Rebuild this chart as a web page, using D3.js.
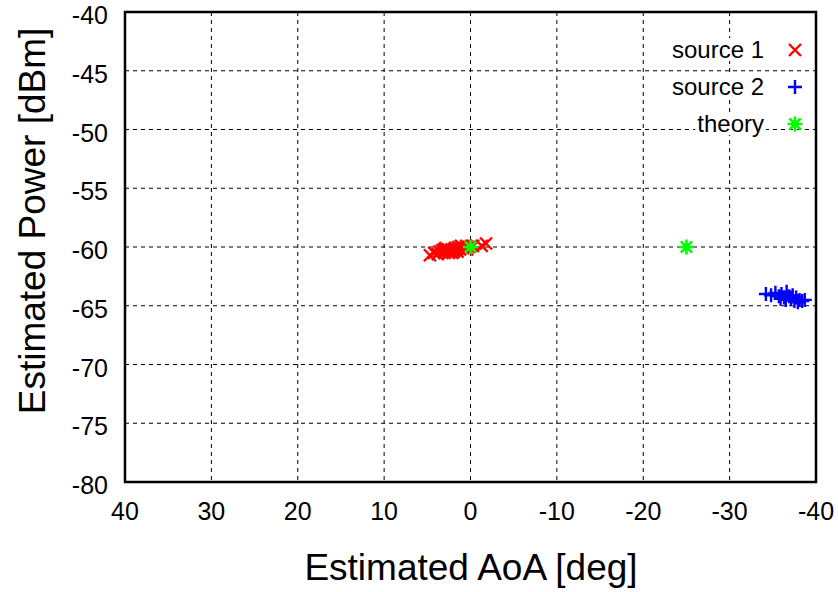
<!DOCTYPE html>
<html><head><meta charset="utf-8">
<script src="https://cdn.jsdelivr.net/npm/d3@7"></script>
<style>body{margin:0;background:#fff}svg{display:block;font-family:"Liberation Sans",Arial,sans-serif}</style>
</head><body><svg id="c" width="838" height="592"></svg>
<script>
const xTicks = [40,30,20,10,0,-10,-20,-30,-40];
const yTicks = [-80,-75,-70,-65,-60,-55,-50,-45,-40];
const source1AoA = [4.7,4.2,3.6,3.3,3.0,2.8,2.6,2.4,2.2,2.0,1.8,1.6,1.4,1.2,1.0,0.8,0.5,0.2,-0.3,-1.3,-1.8,2.9,3.8,2.5,1.9,1.1,0.4,3.1,2.1,1.5];
const source1Pow = [-60.7,-60.5,-60.4,-60.3,-60.5,-60.3,-60.2,-60.4,-60.2,-60.3,-60.1,-60.2,-60.0,-60.2,-60.0,-60.1,-59.9,-60.0,-59.9,-59.9,-59.7,-60.1,-60.6,-60.5,-60.4,-59.9,-60.2,-60.2,-60.5,-60.4];
const source2AoA = [-34.2,-34.8,-35.3,-35.7,-36.0,-36.3,-36.6,-36.9,-37.1,-37.3,-37.5,-37.7,-37.9,-38.1,-38.4,-38.7,-36.5,-35.9];
const source2Pow = [-64.0,-64.1,-63.9,-64.2,-64.0,-64.3,-63.8,-64.2,-64.4,-64.1,-64.6,-64.3,-64.7,-64.5,-64.6,-64.5,-64.5,-64.4];
const theoryAoA = [0,-25];
const theoryPow = [-60,-60];
const legendLabels = ["source 1","source 2","theory"];

const svg = d3.select("#c");
const L=125,R=816,T=12,B=482;
const x = d3.scaleLinear().domain([40,-40]).range([L,R]);
const y = d3.scaleLinear().domain([-80,-40]).range([B,T]);

// grid
svg.append("g").selectAll("line").data(xTicks.slice(1,-1)).join("line")
  .attr("x1",d=>x(d)).attr("x2",d=>x(d)).attr("y1",T).attr("y2",B)
  .attr("stroke","#000").attr("stroke-width",1).attr("stroke-dasharray","4,4");
svg.append("g").selectAll("line").data(yTicks.slice(1,-1)).join("line")
  .attr("y1",d=>y(d)).attr("y2",d=>y(d)).attr("x1",L).attr("x2",R)
  .attr("stroke","#000").attr("stroke-width",1).attr("stroke-dasharray","4,4");

// tick labels
svg.append("g").selectAll("text").data(xTicks).join("text")
  .attr("x",d=>x(d)).attr("y",520).attr("text-anchor","middle")
  .attr("font-size",25).text(d=>d);
svg.append("g").selectAll("text").data(yTicks).join("text")
  .attr("x",108).attr("y",d=>y(d)+12).attr("text-anchor","end")
  .attr("font-size",25).text(d=>d);

// axis titles
svg.append("text").attr("x",471).attr("y",580).attr("text-anchor","middle")
  .attr("font-size",37).text("Estimated AoA [deg]");
svg.append("text").attr("transform",`translate(45,221) rotate(-90)`)
  .attr("text-anchor","middle").attr("font-size",37).text("Estimated Power [dBm]");

// legend
const lgY=[50,87,124];
const lg = svg.append("g");
legendLabels.forEach((t,i)=>{
  const tx = lg.append("text").attr("x",764).attr("y",lgY[i]+8).attr("text-anchor","end")
    .attr("font-size",24).text(t);
  const bb = tx.node().getBBox();
  lg.insert("rect","text").attr("x",bb.x-2).attr("y",bb.y+2).attr("width",bb.width+4).attr("height",bb.height-4)
    .attr("fill","#fff");
});

// markers
function cross(g,cx,cy,s,c){g.append("path").attr("d",`M${cx-s},${cy-s}L${cx+s},${cy+s}M${cx-s},${cy+s}L${cx+s},${cy-s}`).attr("stroke",c).attr("stroke-width",2.4).attr("fill","none");}
function plus(g,cx,cy,s,c){g.append("path").attr("d",`M${cx-s},${cy}L${cx+s},${cy}M${cx},${cy-s}L${cx},${cy+s}`).attr("stroke",c).attr("stroke-width",2.4).attr("fill","none");}
function star(g,cx,cy,s,c){g.append("path").attr("d",`M${cx-s},${cy}L${cx+s},${cy}M${cx},${cy-s}L${cx},${cy+s}M${cx-s*0.75},${cy-s*0.75}L${cx+s*0.75},${cy+s*0.75}M${cx-s*0.75},${cy+s*0.75}L${cx+s*0.75},${cy-s*0.75}`).attr("stroke",c).attr("stroke-width",2.6).attr("fill","none");}

const m = svg.append("g");
source1AoA.forEach((a,i)=>cross(m,x(a),y(source1Pow[i]),6,"#ff0000"));
source2AoA.forEach((a,i)=>plus(m,x(a),y(source2Pow[i]),7,"#0000ff"));
theoryAoA.forEach((a,i)=>star(m,x(a),y(theoryPow[i]),7.5,"#00ff00"));
cross(m,795,lgY[0],6,"#ff0000");
plus(m,795,lgY[1],7,"#0000ff");
star(m,795,lgY[2],7.5,"#00ff00");

// frame
svg.append("rect").attr("x",L).attr("y",T).attr("width",R-L).attr("height",B-T)
  .attr("fill","none").attr("stroke","#000").attr("stroke-width",2.5);
</script></body></html>
